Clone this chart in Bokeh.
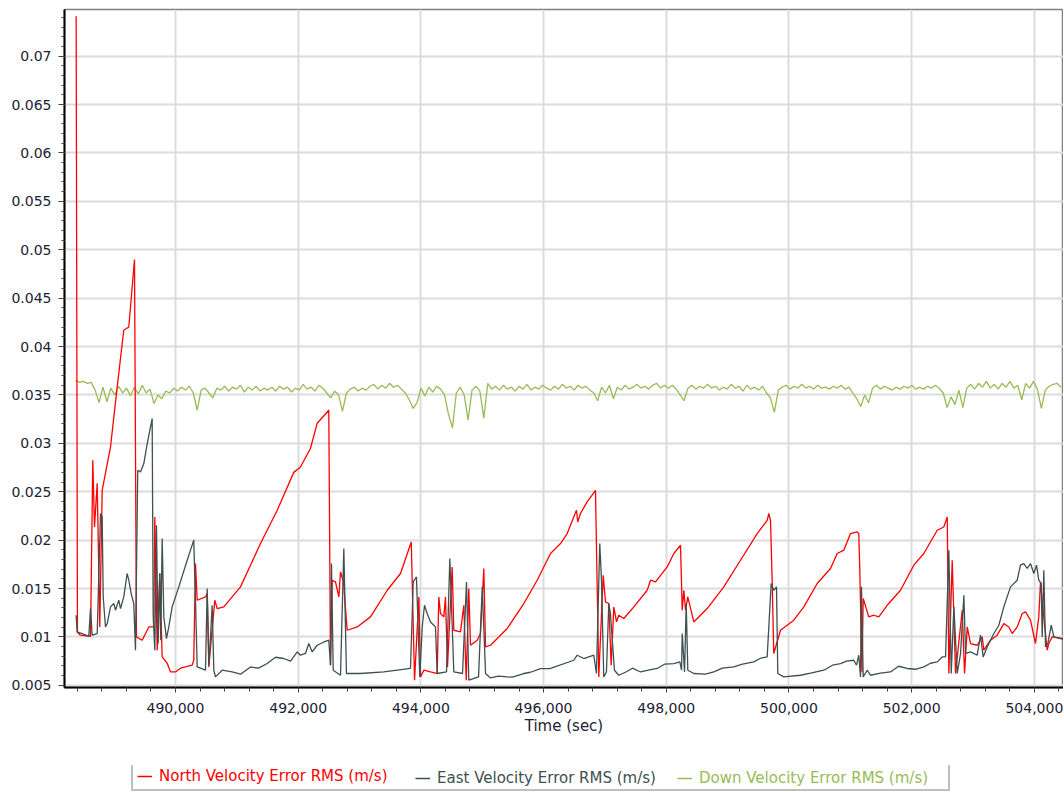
from bokeh.plotting import figure
from bokeh.layouts import column
from bokeh.models import (Range1d, SingleIntervalTicker, NumeralTickFormatter,
                          CustomJSTickFormatter, Legend, LegendItem)
from bokeh.embed import file_html
from bokeh.resources import INLINE

series_names = ["North Velocity Error RMS (m/s)",
                "East Velocity Error RMS (m/s)",
                "Down Velocity Error RMS (m/s)"]

# (time sec, value m/s)
north = [
    (488381, 0.07412), (488402, 0.01049), (488451, 0.01018), (488615, 0.01007), (488652, 0.02825),
    (488680, 0.02136), (488724, 0.02588), (488766, 0.01103), (488805, 0.02515), (488941, 0.02963),
    (489050, 0.03583), (489157, 0.04168), (489239, 0.04202), (489332, 0.04899), (489364, 0.0100),
    (489457, 0.00966), (489565, 0.01103), (489646, 0.01103), (489663, 0.0224), (489702, 0.00863),
    (489744, 0.01658), (489783, 0.00793), (489865, 0.00728), (489919, 0.00638), (490000, 0.00638),
    (490082, 0.00677), (490272, 0.00708), (490298, 0.00759), (490326, 0.01758), (490354, 0.01379),
    (490489, 0.01413), (490517, 0.01451), (490543, 0.0069), (490641, 0.01379), (490680, 0.01293),
    (490787, 0.0131), (491060, 0.01517), (491386, 0.01965), (491658, 0.02309), (491928, 0.0270),
    (492038, 0.02756), (492201, 0.02949), (492310, 0.03208), (492499, 0.03342), (492527, 0.00708),
    (492554, 0.01586), (492608, 0.01568), (492663, 0.01413), (492690, 0.01671), (492739, 0.01568),
    (492799, 0.01069), (492962, 0.01103), (493179, 0.01207), (493452, 0.01482), (493668, 0.01655),
    (493843, 0.01981), (493897, 0.00553), (493967, 0.01413), (493994, 0.00587), (494048, 0.00656),
    (494157, 0.00638), (494266, 0.00622), (494292, 0.01413), (494320, 0.01242), (494374, 0.01207),
    (494401, 0.01413), (494434, 0.0069), (494510, 0.01723), (494537, 0.01069), (494646, 0.01052),
    (494700, 0.01327), (494739, 0.00553), (494781, 0.0150), (494809, 0.00914), (494918, 0.00966),
    (494972, 0.01035), (495026, 0.01707), (495054, 0.00897), (495135, 0.00914), (495407, 0.01087),
    (495678, 0.01345), (495896, 0.01586), (496113, 0.01862), (496276, 0.01965), (496385, 0.02068),
    (496492, 0.0224), (496536, 0.02309), (496557, 0.02188), (496601, 0.02275), (496710, 0.02395),
    (496846, 0.02515), (496900, 0.00587), (496972, 0.01637), (497009, 0.01362), (497063, 0.01345),
    (497102, 0.00708), (497145, 0.0131), (497189, 0.01155), (497226, 0.01224), (497308, 0.0119),
    (497471, 0.0131), (497689, 0.01482), (497743, 0.01586), (497825, 0.01568), (498015, 0.01723),
    (498123, 0.01862), (498232, 0.01947), (498260, 0.01276), (498286, 0.01482), (498314, 0.01276),
    (498351, 0.01413), (498449, 0.01155), (498667, 0.01293), (498938, 0.01517), (499210, 0.01792),
    (499482, 0.02068), (499645, 0.02205), (499671, 0.02275), (499699, 0.02205), (499726, 0.01586),
    (499752, 0.00829), (499862, 0.01069), (500078, 0.01173), (500242, 0.0131), (500460, 0.01552),
    (500677, 0.01707), (500786, 0.01862), (500894, 0.01896), (501003, 0.02068), (501112, 0.02085),
    (501138, 0.02068), (501154, 0.01707), (501190, 0.00635), (501210, 0.01397), (501301, 0.01207),
    (501383, 0.01224), (501464, 0.01207), (501601, 0.01327), (501818, 0.01482), (502035, 0.01741),
    (502198, 0.01862), (502417, 0.02102), (502524, 0.02136), (502580, 0.0224), (502606, 0.00622),
    (502661, 0.01792), (502715, 0.00622), (502824, 0.01276), (502862, 0.00622), (502906, 0.01103),
    (502960, 0.00932), (503069, 0.00914), (503150, 0.0100), (503176, 0.00863), (503285, 0.00966),
    (503394, 0.01018), (503502, 0.01138), (503584, 0.01103), (503639, 0.01035), (503720, 0.01103),
    (503802, 0.01242), (503856, 0.01258), (503937, 0.01173), (504018, 0.00932), (504072, 0.01207),
    (504100, 0.01568), (504154, 0.01207), (504209, 0.00863), (504235, 0.00932), (504291, 0.0100),
    (504480, 0.00983),
]

east = [
    (488381, 0.01224), (488397, 0.01052), (488479, 0.01035), (488587, 0.01007), (488615, 0.01293),
    (488642, 0.01018), (488724, 0.01035), (488778, 0.02275), (488805, 0.0224), (488822, 0.01413),
    (488859, 0.01103), (488887, 0.01138), (488941, 0.0131), (488995, 0.01345), (489022, 0.01276),
    (489076, 0.01379), (489104, 0.01293), (489157, 0.01413), (489212, 0.01655), (489239, 0.01586),
    (489278, 0.01448), (489320, 0.01345), (489348, 0.00863), (489385, 0.02722), (489430, 0.02704),
    (489484, 0.02791), (489539, 0.02998), (489620, 0.03256), (489637, 0.01207), (489663, 0.00863),
    (489690, 0.02154), (489718, 0.00932), (489744, 0.01655), (489760, 0.00966), (489783, 0.02016),
    (489810, 0.01207), (489853, 0.00983), (489891, 0.01103), (489946, 0.0131), (490054, 0.01517),
    (490191, 0.01792), (490298, 0.0200), (490326, 0.01379), (490354, 0.0069), (490489, 0.00656),
    (490517, 0.0150), (490546, 0.00708), (490598, 0.01327), (490625, 0.00656), (490652, 0.00587),
    (490761, 0.00656), (490924, 0.00638), (491060, 0.00615), (491223, 0.0069), (491353, 0.00677),
    (491495, 0.00725), (491630, 0.0079), (491765, 0.00777), (491875, 0.00749), (491984, 0.00845),
    (492038, 0.00811), (492119, 0.00829), (492173, 0.00932), (492228, 0.00845), (492310, 0.00914),
    (492418, 0.00948), (492499, 0.00966), (492527, 0.00708), (492543, 0.01758), (492571, 0.00656),
    (492690, 0.00604), (492744, 0.01913), (492787, 0.00622), (493016, 0.00622), (493396, 0.00638),
    (493831, 0.00674), (493875, 0.01568), (493928, 0.0162), (493982, 0.00587), (494022, 0.01103),
    (494059, 0.01327), (494103, 0.01242), (494157, 0.01155), (494238, 0.01103), (494266, 0.00622),
    (494418, 0.00638), (494472, 0.0181), (494537, 0.00638), (494679, 0.00622), (494744, 0.01568),
    (494781, 0.00553), (494940, 0.00587), (495000, 0.01517), (495054, 0.00622), (495135, 0.00576),
    (495265, 0.00594), (495407, 0.00587), (495493, 0.00584), (495678, 0.00622), (495787, 0.00635),
    (495950, 0.00673), (496113, 0.00674), (496492, 0.00759), (496548, 0.00811), (496655, 0.00777),
    (496818, 0.00811), (496862, 0.00622), (496916, 0.01965), (496944, 0.01586), (496981, 0.00587),
    (497025, 0.00638), (497063, 0.01345), (497090, 0.01242), (497155, 0.00656), (497226, 0.00604),
    (497335, 0.00635), (497449, 0.00677), (497580, 0.00638), (497710, 0.00656), (497852, 0.00674),
    (497971, 0.00718), (498123, 0.00725), (498221, 0.00742), (498249, 0.00656), (498260, 0.01035),
    (498298, 0.00638), (498325, 0.01345), (498351, 0.00656), (498449, 0.00622), (498639, 0.00615),
    (498775, 0.00638), (498916, 0.00677), (499101, 0.0069), (499242, 0.00718), (499427, 0.00742),
    (499536, 0.0078), (499645, 0.00793), (499710, 0.01552), (499752, 0.01482), (499797, 0.01517),
    (499818, 0.00622), (499916, 0.00587), (500188, 0.00604), (500351, 0.00625), (500568, 0.00656),
    (500709, 0.00708), (500840, 0.00725), (500937, 0.00749), (501057, 0.00759), (501101, 0.00708),
    (501138, 0.00811), (501166, 0.00587), (501182, 0.01517), (501210, 0.00587), (501275, 0.00656),
    (501329, 0.00604), (501492, 0.00625), (501655, 0.00638), (501785, 0.00697), (501927, 0.00674),
    (502062, 0.00666), (502198, 0.0069), (502307, 0.00728), (502417, 0.00742), (502498, 0.00793),
    (502552, 0.00793), (502606, 0.01896), (502645, 0.00622), (502688, 0.0131), (502743, 0.00622),
    (502797, 0.00829), (502851, 0.01431), (502879, 0.00829), (502960, 0.00845), (503069, 0.00811),
    (503122, 0.01018), (503166, 0.00793), (503231, 0.00897), (503340, 0.01035), (503421, 0.01121),
    (503502, 0.0131), (503611, 0.01517), (503720, 0.01586), (503774, 0.01741), (503829, 0.01758),
    (503883, 0.01707), (503937, 0.01758), (503991, 0.01655), (504035, 0.01741), (504072, 0.01586),
    (504111, 0.01552), (504128, 0.0100), (504154, 0.01689), (504182, 0.00897), (504219, 0.00932),
    (504275, 0.01121), (504317, 0.0100), (504480, 0.00973),
]

# Down series: sampled every 64 s from 488370 s; values in units of 1e-4 m/s
down_start = 488370
down_step = 64
down_e4 = [
    365, 363, 364, 362, 363, 355, 342, 358, 343, 357, 350, 359, 352, 357, 349, 358, 351, 360, 352, 356,
    341, 350, 346, 354, 352, 357, 354, 358, 355, 359, 352, 334, 355, 357, 352, 347, 357, 355, 359, 354,
    358, 356, 360, 353, 358, 355, 359, 354, 357, 355, 358, 354, 359, 356, 358, 353, 357, 355, 361, 356,
    358, 354, 360, 357, 352, 347, 354, 350, 333, 352, 356, 358, 354, 357, 355, 359, 361, 356, 360, 357,
    362, 358, 360, 356, 352, 345, 336, 342, 357, 349, 358, 353, 359, 356, 350, 330, 316, 352, 358, 350,
    324, 355, 359, 354, 326, 362, 356, 359, 355, 360, 356, 358, 354, 359, 356, 361, 355, 358, 356, 360,
    357, 355, 359, 356, 361, 357, 359, 355, 360, 357, 359, 355, 352, 344, 358, 352, 360, 346, 358, 355,
    360, 356, 358, 361, 357, 359, 356, 360, 362, 357, 360, 357, 360, 356, 350, 344, 357, 360, 356, 359,
    357, 361, 357, 359, 355, 358, 356, 361, 357, 359, 354, 360, 356, 358, 355, 359, 352, 347, 332, 355,
    358, 360, 356, 359, 357, 361, 357, 359, 356, 360, 357, 358, 356, 359, 357, 360, 356, 358, 352, 346,
    338, 350, 342, 357, 360, 356, 359, 357, 355, 358, 356, 359, 357, 360, 356, 358, 356, 359, 357, 360,
    357, 352, 337, 348, 340, 355, 337, 357, 361, 356, 362, 358, 364, 357, 361, 356, 362, 358, 364, 357,
    360, 345, 362, 357, 364, 356, 336, 355, 359, 361, 362, 358,
]

RED = "#ff0000"
GRAY = "#3e5050"
GREEN = "#99bb55"
FONT = "DejaVu Sans"
TXT = "#222233"

north_t = [a for a, b in north]
north_v = [b for a, b in north]
east_t = [a for a, b in east]
east_v = [b for a, b in east]
down_t = [down_start + i * down_step for i in range(len(down_e4))]
down_v = [v / 1e4 for v in down_e4]

p = figure(frame_width=999, frame_height=678, output_backend="svg", toolbar_location=None,
           x_range=Range1d(488191, 504475), y_range=Range1d(0.004775, 0.07482),
           min_border_left=64, min_border_right=0, min_border_top=9, min_border_bottom=73,
           background_fill_color="white", border_fill_color="white")
p.outline_line_color = "#808080"
p.outline_line_width = 1.5

r_d = p.line(down_t, down_v, line_color=GREEN, line_width=1.3)
r_n = p.line(north_t, north_v, line_color=RED, line_width=1.3)
r_e = p.line(east_t, east_v, line_color=GRAY, line_width=1.3)

p.xaxis.ticker = SingleIntervalTicker(interval=2000, num_minor_ticks=5)
p.yaxis.ticker = SingleIntervalTicker(interval=0.005, num_minor_ticks=5)
p.xaxis.formatter = NumeralTickFormatter(format="0,0")
p.yaxis.formatter = CustomJSTickFormatter(code="return String(parseFloat(tick.toFixed(4)));")

for ax in (p.xaxis, p.yaxis):
    ax.axis_line_color = "black"
    ax.axis_line_width = 2
    ax.major_tick_line_color = "#444444"
    ax.minor_tick_line_color = "#444444"
    ax.major_tick_in = 0
    ax.minor_tick_in = 0
    ax.major_label_text_font = FONT
    ax.major_label_text_font_size = "14px"
    ax.major_label_text_color = TXT
p.xaxis.major_tick_out = 5
p.xaxis.minor_tick_out = 4
p.xaxis.major_label_standoff = 10
p.yaxis.major_tick_out = 6
p.yaxis.minor_tick_out = 3
p.yaxis.major_label_standoff = 7

p.xaxis.axis_label = "Time (sec)"
p.xaxis.axis_label_text_font = FONT
p.xaxis.axis_label_text_font_size = "15px"
p.xaxis.axis_label_text_font_style = "normal"
p.xaxis.axis_label_text_color = TXT
p.xaxis.axis_label_standoff = 1

p.xgrid.grid_line_color = "#dcdcdc"
p.ygrid.grid_line_color = "#dcdcdc"
p.xgrid.grid_line_width = 2
p.ygrid.grid_line_width = 2

# legend strip below the chart, same frame span as the chart
lf = figure(frame_width=999, frame_height=26, output_backend="svg", toolbar_location=None,
            x_range=Range1d(0, 1), y_range=Range1d(0, 1),
            x_axis_location=None, y_axis_location=None,
            min_border_left=64, min_border_right=0, min_border_top=5, min_border_bottom=0,
            background_fill_color="white", border_fill_color="white")
lf.grid.visible = False
lf.outline_line_alpha = 0

nan = float("nan")
k_n = lf.line([nan, nan], [nan, nan], line_color=RED, line_width=1.5)
k_e = lf.line([nan, nan], [nan, nan], line_color=GRAY, line_width=1.5)
k_d = lf.line([nan, nan], [nan, nan], line_color=GREEN, line_width=1.5)

common = dict(orientation="horizontal", padding=4, margin=0, spacing=0,
              glyph_width=15, glyph_height=16, label_height=16, label_standoff=7,
              label_text_font=FONT, label_text_font_size="15px")
lf.add_layout(Legend(items=[LegendItem(label=series_names[0], renderers=[k_n])],
                     location=(67, 0), label_width=785, label_text_color=RED,
                     border_line_color="#808080", border_line_width=2,
                     background_fill_color="white", background_fill_alpha=1, **common))
lf.add_layout(Legend(items=[LegendItem(label=series_names[1], renderers=[k_e])],
                     location=(347, 0), label_text_color=GRAY,
                     border_line_alpha=0, background_fill_alpha=0, **common))
lf.add_layout(Legend(items=[LegendItem(label=series_names[2], renderers=[k_d])],
                     location=(609, 0), label_text_color=GREEN,
                     border_line_alpha=0, background_fill_alpha=0, **common))

layout = column(p, lf, spacing=0)
open("out.html", "w").write(file_html(layout, INLINE))
